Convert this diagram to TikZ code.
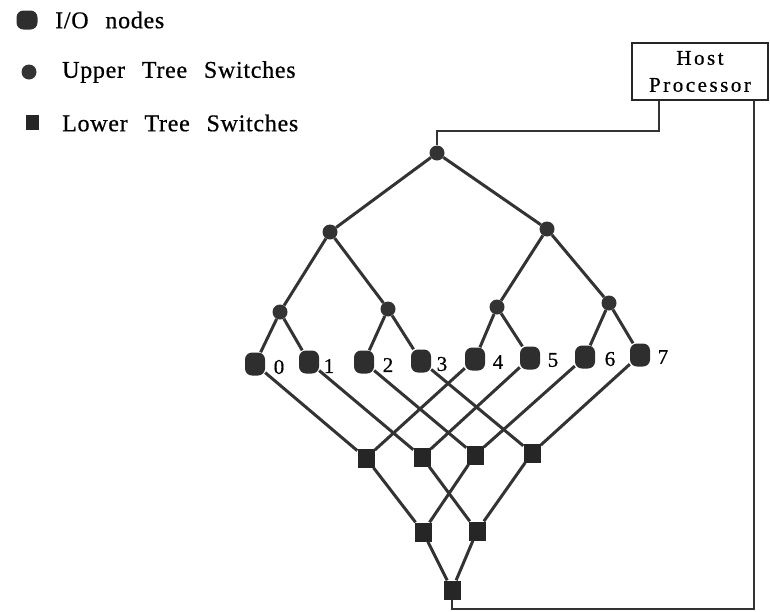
\documentclass[tikz,border=0pt]{standalone}
\usepackage{fontspec}
\setmainfont{Liberation Serif}
\newfontfamily\legfont[LetterSpace=3,FakeBold=0.6]{Liberation Serif}
\newfontfamily\hostfont[LetterSpace=12,FakeBold=0.6]{Liberation Serif}
\newfontfamily\digfont[FakeBold=0.6]{Liberation Serif}
\begin{document}
\begin{tikzpicture}[x=1pt,y=-1pt,
  ln/.style={line width=3pt, draw=black!80},
  io/.style={rectangle, rounded corners=7pt, fill=black!82, minimum width=20pt, minimum height=23pt, inner sep=0pt},
  up/.style={circle, fill=black!80, minimum size=15pt, inner sep=0pt},
  lo/.style={rectangle, fill=black!85, minimum width=17pt, minimum height=19pt, inner sep=0pt},
  lab/.style={font=\digfont\fontsize{21}{22}\selectfont, inner sep=0pt},
  leg/.style={font=\legfont\fontsize{24}{26}\selectfont, anchor=west, inner sep=0pt}]
\useasboundingbox (0,0) rectangle (770,611);

% legend
\node[io, minimum width=21pt, minimum height=19pt] (kio) at (27,20) {};
\node[leg] (tio) at (55,20) {I/O\hspace{0.7em}nodes};
\node[up, minimum size=15pt] (kup) at (29,72) {};
\node[leg] (tup) at (62,72) {Upper\hspace{0.7em}Tree\hspace{0.7em}Switches};
\node[lo, minimum width=13pt, minimum height=15pt] (klo) at (32,122) {};
\node[leg] (tlo) at (62,123) {Lower\hspace{0.7em}Tree\hspace{0.7em}Switches};

% host
\node[draw, draw=black!85, line width=2pt, minimum width=136pt, minimum height=57pt, align=center,
      font=\hostfont\fontsize{21}{27}\selectfont] (host) at (700,71.5) {Host\\Processor};

% upper tree
\node[up] (u0) at (437,153) {};
\node[up] (u1) at (330,232) {};
\node[up] (u2) at (547,229) {};
\node[up] (u3) at (280,312) {};
\node[up] (u4) at (388,309) {};
\node[up] (u5) at (497,307) {};
\node[up] (u6) at (609,303) {};

% I/O nodes
\node[io] (n0) at (255,364) {};
\node[io] (n1) at (309,362) {};
\node[io] (n2) at (364,362) {};
\node[io] (n3) at (421,361) {};
\node[io] (n4) at (475,359) {};
\node[io] (n5) at (530,358) {};
\node[io] (n6) at (585,357) {};
\node[io] (n7) at (640,355) {};

\node[lab] (d0) at (279,367) {0};
\node[lab] (d1) at (329,366) {1};
\node[lab] (d2) at (388,365) {2};
\node[lab] (d3) at (442,364) {3};
\node[lab] (d4) at (498,362) {4};
\node[lab] (d5) at (553,360) {5};
\node[lab] (d6) at (610,359) {6};
\node[lab] (d7) at (663,357) {7};

% lower tree
\node[lo] (l1) at (366,458) {};
\node[lo] (l2) at (422,457) {};
\node[lo] (l3) at (475,455) {};
\node[lo] (l4) at (532,453) {};
\node[lo] (l5) at (423,532) {};
\node[lo] (l6) at (477,531) {};
\node[lo] (l7) at (452,590) {};

% upper edges
\draw[ln] (u0) -- (u1);
\draw[ln] (u0) -- (u2);
\draw[ln] (u1) -- (u3);
\draw[ln] (u1) -- (u4);
\draw[ln] (u2) -- (u5);
\draw[ln] (u2) -- (u6);
\draw[ln] (u3) -- (n0);
\draw[ln] (u3) -- (n1);
\draw[ln] (u4) -- (n2);
\draw[ln] (u4) -- (n3);
\draw[ln] (u5) -- (n4);
\draw[ln] (u5) -- (n5);
\draw[ln] (u6) -- (n6);
\draw[ln] (u6) -- (n7);

% lower edges
\draw[ln] (n0) -- (l1);
\draw[ln] (n4) -- (l1);
\draw[ln] (n1) -- (l2);
\draw[ln] (n5) -- (l2);
\draw[ln] (n2) -- (l3);
\draw[ln] (n6) -- (l3);
\draw[ln] (n3) -- (l4);
\draw[ln] (n7) -- (l4);
\draw[ln] (l1) -- (l5);
\draw[ln] (l3) -- (l5);
\draw[ln] (l2) -- (l6);
\draw[ln] (l4) -- (l6);
\draw[ln] (l5) -- (l7);
\draw[ln] (l6) -- (l7);

% host connections
\coordinate (ca) at (437,131);
\coordinate (cb) at (452,609);
\draw[ln, line width=2.2pt] ([xshift=28pt]host.south west) |- (ca) -- (u0);
\draw[ln, line width=2.2pt] ([xshift=-15pt]host.south east) |- (cb) -- (l7);
\end{tikzpicture}
\end{document}
